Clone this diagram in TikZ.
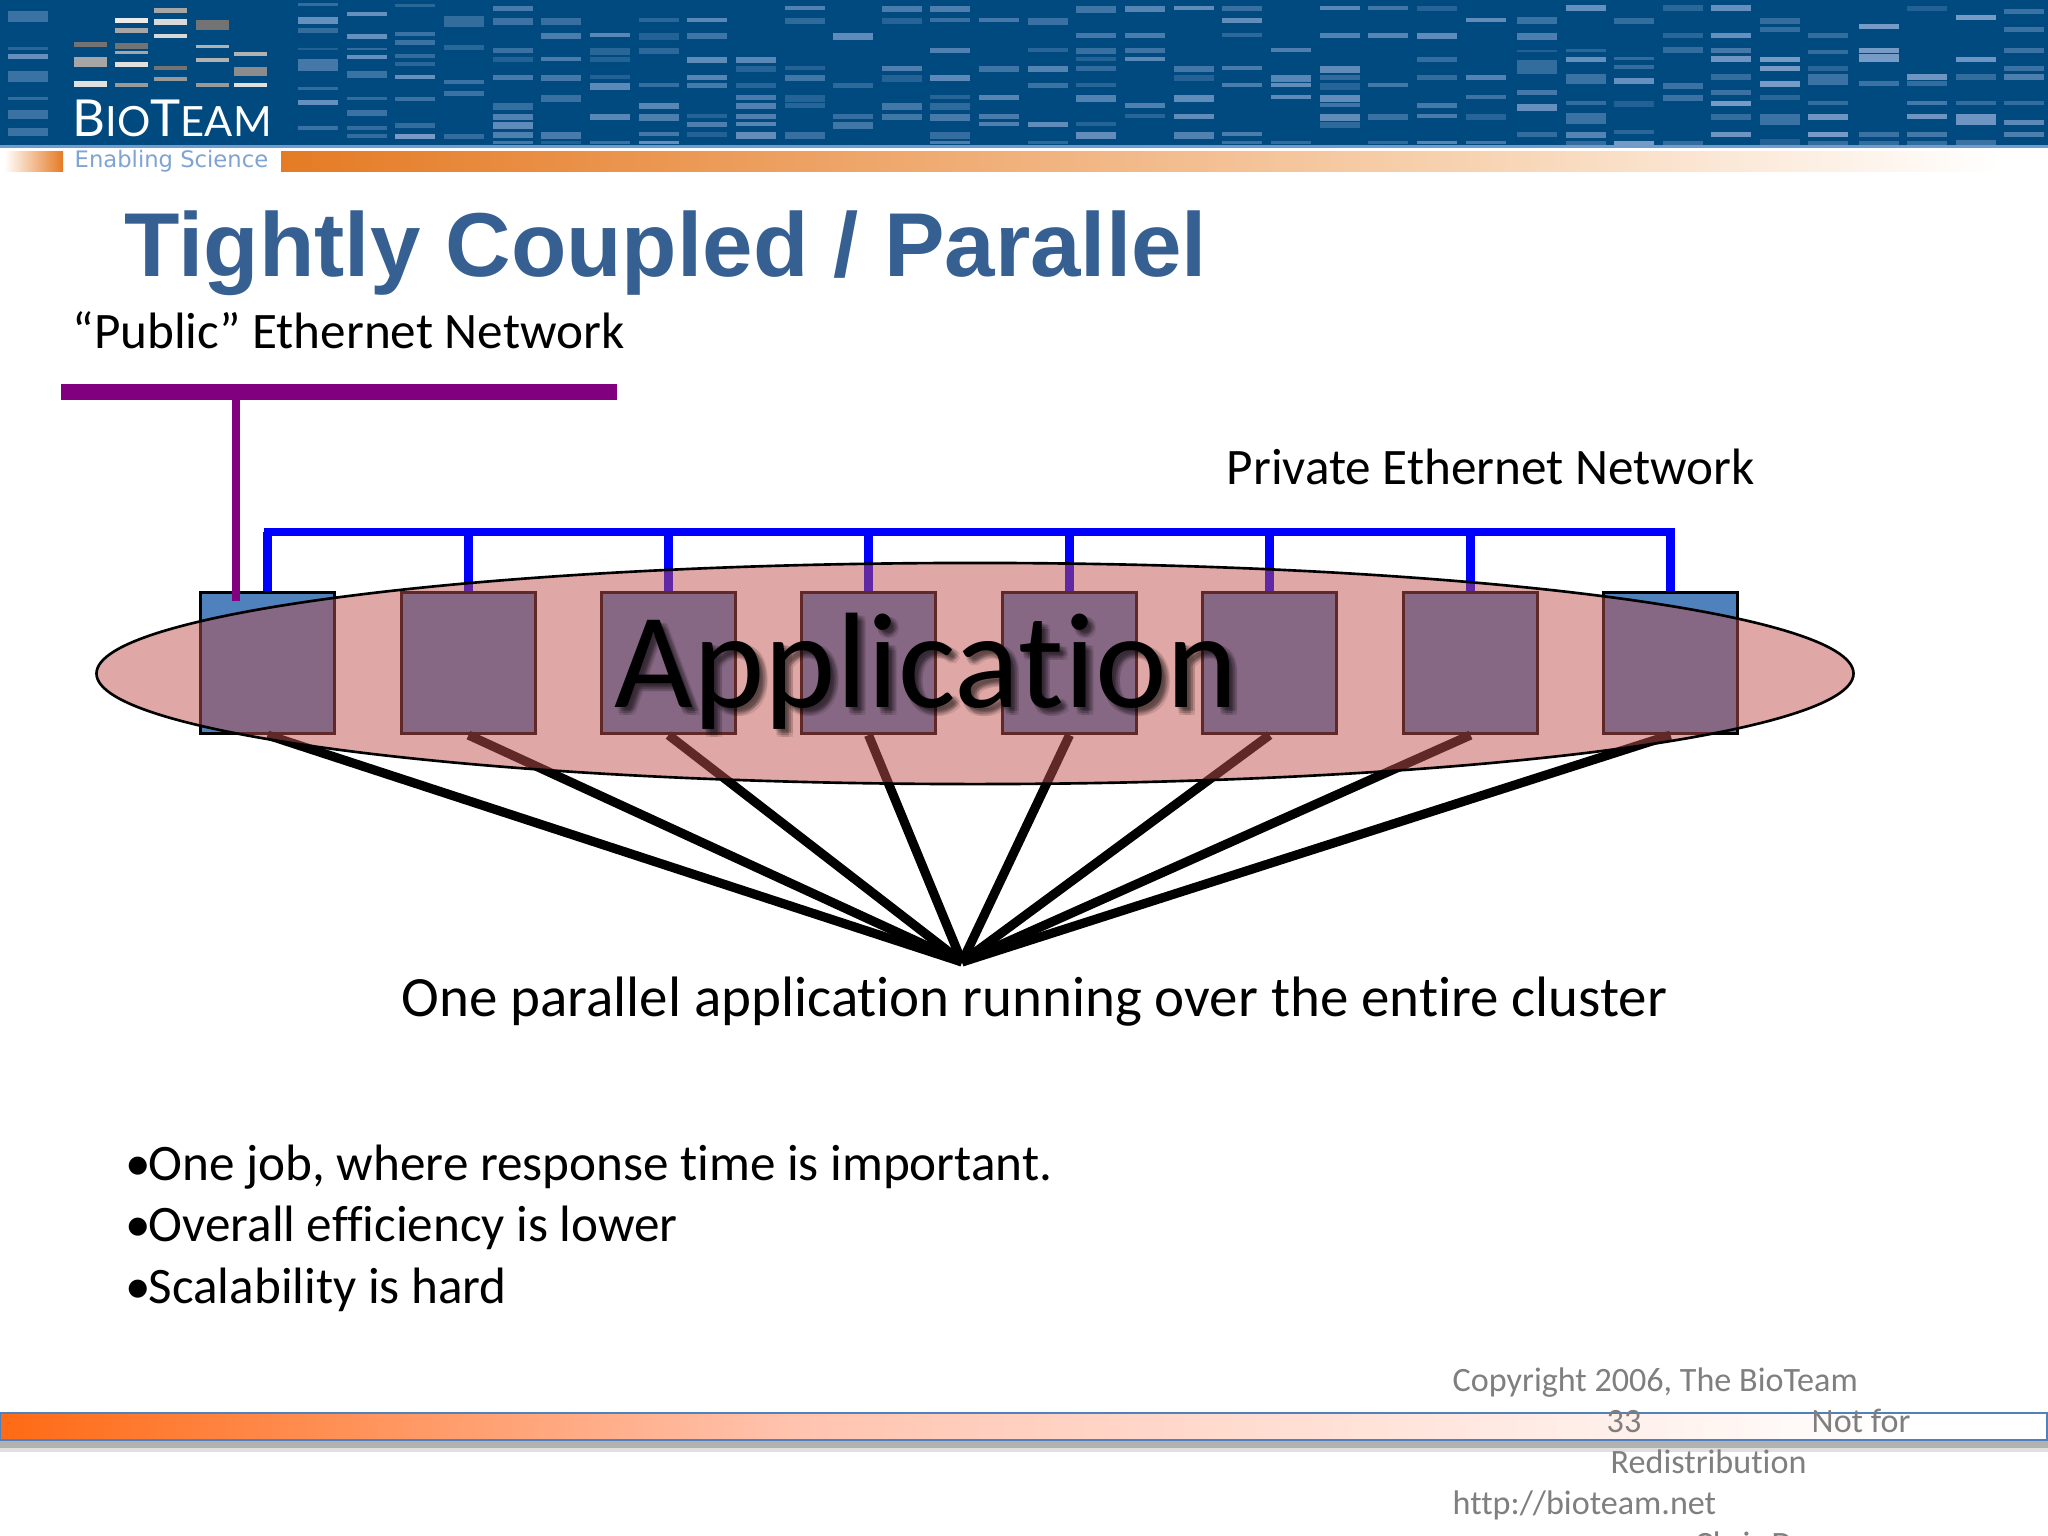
\documentclass[tikz,border=0pt]{standalone}
\usepackage{fontspec}
\setmainfont{Carlito}[Ligatures={NoCommon}]
\newfontfamily\titlefont{Liberation Sans}[BoldFont={Liberation Sans Bold}]
\newfontfamily\logofont{Lato}
\newfontfamily\tagfont{DejaVu Sans}
\usetikzlibrary{shapes.geometric,calc}
\definecolor{hdrblue}{HTML}{004A80}
\definecolor{bandblue}{HTML}{A9BEE6}
\definecolor{hdrline}{HTML}{6F9CCB}
\definecolor{hdrorange}{HTML}{E57B25}
\definecolor{hdrmid}{HTML}{F8D5B5}
\definecolor{tagblue}{HTML}{7FA3D3}
\definecolor{titleblue}{HTML}{376092}
\definecolor{netpurple}{HTML}{800080}
\definecolor{nodeblue}{HTML}{4F81BD}
\definecolor{appred}{HTML}{C0504D}
\definecolor{footorange}{HTML}{FF6A14}
\definecolor{footmid}{HTML}{FFC4B0}
\definecolor{footgrey}{HTML}{7F7F7F}
\tikzset{
  x=0.01cm,y=-0.01cm,
  lbl/.style={anchor=base west,inner sep=0pt,text=black,font=\fontsize{14.55}{17}\selectfont},
  foot/.style={anchor=base west,inner sep=0pt,text=footgrey,font=\fontsize{9.7}{11}\selectfont},
  clusterbox/.style={draw=black,line width=0.85pt,fill=nodeblue,minimum width=1.34cm,minimum height=1.41cm,inner sep=0pt,anchor=north west},
  busline/.style={draw=blue,line width=2.4pt},
  pubvert/.style={draw=netpurple,line width=2.5pt},
  fanline/.style={draw=black,line width=2.6pt},
}
\newcommand{\bandcol}[2]{\foreach \ya/\yb/\op in {#2}{\fill[bandblue,opacity=\op] (#1,\ya) rectangle (#1+40,\yb);}}
\newcommand{\logocol}[2]{\foreach \ya/\yb/\gr in {#2}{\fill[black!\gr!white] (#1,\ya) rectangle (#1+33,\yb);}}
\begin{document}
\begin{tikzpicture}
\clip (0,0) rectangle (2048,1536);
\fill[white] (0,0) rectangle (2048,1536);
% header
\fill[hdrblue] (0,0) rectangle (2048,145);
\fill[hdrline] (0,145) rectangle (2048,148);
\bandcol{8}{11/22/.35,47/50/.25,54/59/.6,71/82/.35,97/100/.3,110/119/.35,128/136/.35}
\bandcol{298}{3/6/.3,17/24/.6,28/33/.3,48/50/.2,59/71/.4,87/90/.3,100/105/.6,126/130/.35}
\bandcol{347}{12/16/.6,34/39/.6,48/50/.3,55/59/.6,71/78/.35,97/100/.3,110/116/.35,126/130/.3,134/138/.3}
\bandcol{395}{4/7/.25,32/36/.35,40/45/.35,54/58/.3,62/66/.25,75/79/.6,97/101/.35,123/128/.3,134/139/.7}
\bandcol{444}{16/27/.3,45/50/.25,80/84/.35,91/96/.35,134/139/.3}
\pgfmathsetseed{4242}
\foreach \k in {4,...,24}{
  \pgfmathsetmacro{\cx}{298+\k*48.65}
  \foreach \ry in {6,18,33,48,57,66,75,83,95,103,114,122,132,141}{
    \pgfmathsetmacro{\show}{rnd}
    \pgfmathsetmacro{\op}{0.2+0.4*rnd}
    \pgfmathsetmacro{\hh}{4+int(4*rnd)}
    \ifdim\show pt<0.5pt
      \fill[bandblue,opacity=\op] (\cx,\ry) rectangle (\cx+40,{min(\ry+\hh,144)});
    \fi
  }
}
\bandcol{1517}{17/24/.35,33/40/.45,50/52/.2,60/74/.3,90/95/.4,104/111/.6,132/137/.3}
\bandcol{1566}{5/11/.6,49/52/.25,57/62/.6,74/84/.35,101/105/.3,113/124/.35,132/138/.5,141/145/.3}
\bandcol{1614}{18/24/.3,57/60/.3,65/69/.3,78/84/.6,101/107/.2,130/134/.25,141/145/.7}
\bandcol{1663}{5/11/.25,33/38/.25,47/53/.3,83/89/.35,95/101/.35,141/145/.3}
\bandcol{1711}{5/11/.6,33/38/.6,48/53/.4,56/62/.65,74/80/.3,90/95/.35,101/106/.7,114/120/.3,132/137/.65}
\bandcol{1760}{18/24/.3,27/32/.3,57/62/.7,66/71/.7,81/87/.7,95/100/.25,114/125/.35,139/145/.2}
\bandcol{1808}{33/38/.3,50/54/.3,66/71/.25,74/85/.35,101/105/.3,114/120/.65,132/137/.7,141/145/.3}
\bandcol{1859}{24/29/.7,48/53/.7,54/62/.7,81/86/.35,132/137/.35,141/145/.3}
\bandcol{1907}{6/11/.2,74/80/.65,81/86/.3,101/105/.4,114/119/.65,132/137/.4,141/145/.3}
\bandcol{1956}{15/20/.7,57/62/.65,74/80/.3,101/105/.3,114/125/.65,140/145/.35}
\bandcol{2004}{9/14/.35,27/32/.35,48/53/.35,66/71/.35,74/80/.45,101/105/.3,120/125/.55,132/137/.45}
% logo bars
\logocol{74}{42/47/55,57/67/35,81/87/12}
\logocol{115}{18/23/8,28/33/35,43/49/55,51/54/35,62/67/12,83/87/40}
\logocol{154}{8/13/35,19/25/15,34/38/15,66/70/55,77/81/40}
\logocol{196}{20/30/55,45/48/30,58/62/30,83/87/40}
\logocol{234}{52/56/30,67/76/45,83/87/12}
\node[anchor=base west,inner sep=0pt,text=white,font=\logofont] (logo) at (72,136)
  {{\fontsize{14.5}{15}\selectfont B}{\fontsize{11.85}{13}\selectfont IO}{\fontsize{14.5}{15}\selectfont T}{\fontsize{11.85}{13}\selectfont EAM}};
% orange strip
\shade[left color=white,right color=hdrorange] (4,151) rectangle (63,171);
\shade[left color=hdrorange,right color=hdrmid] (281,151) rectangle (1500,171);
\shade[left color=hdrmid,right color=white] (1500,151) rectangle (2000,171);
\node[anchor=base west,inner sep=0pt,text=tagblue,font=\tagfont\fontsize{6.45}{8}\selectfont] (tag) at (74,167) {Enabling Science};
% title and labels
\node[anchor=base west,inner sep=0pt,text=titleblue,font=\titlefont\bfseries\fontsize{25.8}{30}\selectfont] (title) at (124,276) {Tightly Coupled / Parallel};
\node[lbl] (publab) at (72,348) {“Public” Ethernet Network};
\node[lbl] (privlab) at (1226,484) {Private Ethernet Network};
% cluster nodes
\foreach \i/\bx in {1/199,2/400,3/600,4/800,5/1001,6/1201,7/1402,8/1602}
  \node[clusterbox] (b\i) at (\bx,591) {};
\coordinate (apex) at (962,962);
\coordinate (pubL) at (61,392);
\coordinate (pubR) at (617,392);
\coordinate (pubT) at (236,392);
\coordinate (pubB) at (236,601);
% connectors
\foreach \i in {1,...,8} \draw[fanline] (b\i.south) -- (apex);
\foreach \i in {1,...,8} {
  \coordinate (bus\i) at (b\i.center |- 0,532);
  \draw[busline] (bus\i) -- (b\i.north);
}
\draw[busline] ($(bus1)+(-4,0)$) -- ($(bus8)+(4,0)$);
\draw[netpurple,line width=4.55pt] (pubL) -- (pubR);
\draw[pubvert] (pubT) -- (pubB);
% application ellipse
\node[ellipse,draw=black,line width=0.75pt,fill=appred,fill opacity=0.5,minimum width=17.56cm,minimum height=2.21cm,inner sep=0pt] (app) at (975,673.5) {};
\foreach \dx/\dy in {2/2,4/4,6/6,8/8,3/6,6/3,8/4,4/8}
  \node[anchor=base west,inner sep=0pt,text=black,opacity=0.10,font=\fontsize{38.65}{44}\selectfont] at ($(614,707)+(\dx,\dy)$) {Application};
\node[anchor=base west,inner sep=0pt,text=black,font=\fontsize{38.65}{44}\selectfont] (apptext) at (614,707) {Application};
% captions
\node[lbl,font=\fontsize{16.2}{19}\selectfont] (caption) at (401,1016) {One parallel application running over the entire cluster};
\node[lbl] (bul1) at (125,1180) {•\kern-0.7pt One job, where response time is important.};
\node[lbl] (bul2) at (125,1241) {•\kern-0.7pt Overall efficiency is lower};
\node[lbl] (bul3) at (125,1303) {•\kern-0.7pt Scalability is hard};
% footer
\fill[black!30] (0,1441) rectangle (2048,1448);
\fill[black!12] (0,1448) rectangle (2048,1452);
\shade[left color=footorange,right color=footmid] (0,1413) rectangle (800,1440);
\shade[left color=footmid,right color=white] (800,1413) rectangle (1900,1440);
\draw[nodeblue,line width=0.6pt] (0,1413) rectangle (2047,1440);
\node[foot] (copy) at (1452,1391) {Copyright 2006, The BioTeam};
\node[foot] (num) at (1606,1432) {33};
\node[foot] (notfor) at (1811,1432) {Not for};
\node[foot] (redis) at (1610,1473) {Redistribution};
\node[foot] (url) at (1452,1514) {http://bioteam.net};
\node[foot] (chris) at (1694,1555) {Chris D};
\end{tikzpicture}
\end{document}
